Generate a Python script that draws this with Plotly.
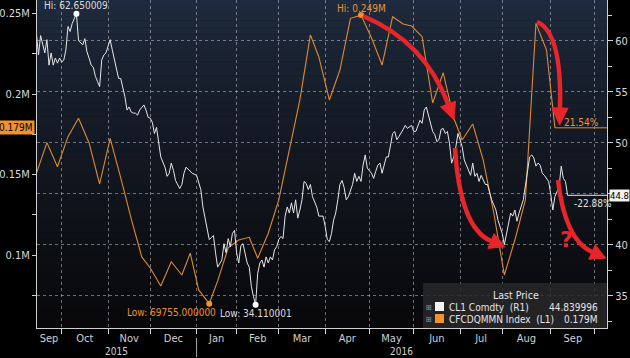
import math
import pandas as pd
import plotly.graph_objects as go

# ---------------- data ----------------
HOLIDAYS = ["2015-11-26", "2015-12-25", "2016-01-01", "2016-01-18", "2016-02-15",
            "2016-03-25", "2016-05-30", "2016-07-04", "2016-09-05"]

# CL1 Comdty (R1): trading-day offsets from 2015-10-01 and prices
cl1_day = [-12, -11, -10, -8, -7, -6, -5, -4, -3, -2, -1, 0, 1, 2, 3, 4, 5, 7, 8, 9,
           10, 11, 12, 13, 14, 15, 16, 17, 18, 19, 20, 21, 23, 24, 25, 26, 27, 28, 29, 30,
           31, 32, 33, 34, 35, 36, 37, 39, 40, 41, 42, 43, 44, 45, 47, 48, 49, 50, 51, 52,
           53, 54, 55, 56, 57, 58, 59, 60, 61, 62, 64, 66, 67, 68, 69, 70, 71, 72, 73, 74,
           76, 77, 78, 79, 80, 81, 82, 83, 84, 85, 86, 87, 88, 89, 90, 91, 92, 93, 94, 95,
           96, 97, 98, 99, 100, 101, 102, 103, 104, 105, 106, 107, 108, 109, 110, 111, 112, 113, 114, 115,
           116, 117, 118, 119, 120, 121, 122, 124, 125, 126, 127, 128, 129, 130, 131, 132, 133, 134, 135, 136,
           138, 139, 140, 141, 142, 143, 144, 145, 147, 148, 149, 150, 151, 152, 153, 154, 155, 156, 157, 158,
           159, 160, 161, 162, 163, 164, 166, 167, 168, 169, 170, 171, 172, 173, 174, 175, 176, 177, 178, 179,
           180, 181, 182, 183, 184, 185, 186, 187, 188, 189, 190, 191, 193, 194, 195, 196, 197, 198, 199, 200,
           201, 202, 203, 204, 205, 206, 207, 208, 209, 210, 211, 212, 213, 214, 215, 216, 217, 219, 220, 221,
           222, 223, 224, 225, 226, 227, 228, 229, 231, 232, 233, 234, 235, 236, 237, 238, 239, 240]
cl1_px = [60.7, 58.6, 60.5, 58.8, 60.1, 57.6, 58.8, 57.6, 58.3, 57.8, 58.3, 57.9, 58.1, 59.1, 61.4, 60.9, 61.7, 62.65, 60.0, 59.8,
          59.6, 60.2, 58.9, 58.3, 57.6, 57.4, 56.5, 56.0, 55.5, 58.1, 58.6, 58.8, 60.1, 59.1, 58.1, 57.1, 56.3, 56.3, 55.5, 54.5,
          53.2, 53.5, 53.0, 52.9, 52.9, 52.7, 53.2, 53.7, 53.2, 52.5, 52.4, 52.0, 50.9, 51.5, 48.6, 48.0, 47.6, 46.7, 47.0, 48.0,
          47.3, 46.3, 45.9, 45.5, 45.9, 47.0, 47.6, 47.4, 47.3, 47.0, 46.8, 45.4, 43.7, 42.6, 41.4, 40.5, 40.7, 40.9, 39.2, 37.8,
          38.5, 40.1, 39.2, 40.6, 39.8, 41.1, 41.4, 39.2, 38.2, 39.9, 40.1, 39.2, 38.2, 37.8, 35.9, 34.9, 34.11, 37.2, 38.2, 38.5,
          37.8, 38.8, 38.2, 38.8, 38.5, 39.5, 39.8, 40.5, 40.8, 40.6, 42.8, 43.7, 43.1, 44.1, 43.1, 44.4, 42.6, 43.4, 44.4, 46.2,
          46.0, 45.4, 45.9, 44.7, 44.1, 43.7, 42.8, 42.8, 41.8, 40.5, 40.3, 41.1, 42.4, 43.1, 44.4, 45.9, 46.3, 45.6, 44.4, 44.7,
          45.9, 47.0, 46.2, 46.7, 46.2, 47.8, 48.8, 47.5, 47.0, 46.5, 47.2, 47.8, 48.0, 47.0, 47.8, 48.6, 48.6, 49.9, 50.9, 51.1,
          50.3, 50.6, 50.9, 51.3, 51.7, 51.4, 51.7, 51.1, 51.1, 51.7, 52.2, 51.9, 53.2, 53.5, 52.7, 51.9, 51.1, 50.8, 50.1, 50.3,
          51.3, 51.4, 50.9, 51.1, 49.9, 48.0, 48.6, 49.6, 50.9, 50.3, 49.6, 48.3, 47.3, 46.8, 48.0, 46.7, 47.0, 46.2, 46.8, 46.3,
          45.9, 45.9, 45.1, 44.4, 43.9, 43.4, 42.4, 41.8, 41.1, 40.0, 41.1, 42.3, 43.1, 42.8, 43.4, 42.3, 43.1, 44.4, 45.9, 47.3,
          48.6, 48.8, 48.5, 47.7, 48.0, 47.8, 47.0, 46.8, 46.2, 45.0, 43.4, 44.7, 45.2, 45.7, 47.7, 46.5, 46.2, 44.84]

# CFCDQMMN Index (L1): weekly values (Tuesdays), 2015-09-15 .. 2016-09-06
cfcd_start = "2015-09-15"
cfcd_val = [150700, 169800, 154800, 173500, 184900, 169600, 144100, 172500, 148100, 122400,
            98800, 91900, 80700, 95800, 87600, 101100, 78300, 69755, 83900, 104400,
            109300, 111000, 98000, 113500, 134200, 165200, 196300, 236700, 223000, 196300,
            214900, 247000, 249000, 234800, 218000, 248000, 243500, 242200, 235600, 194400,
            213200, 185100, 171400, 181400, 159000, 126100, 87600, 109300, 134200, 243900,
            227300, 179000]

MONTH_LABELS = ["Sep", "Oct", "Nov", "Dec", "Jan", "Feb", "Mar", "Apr", "May", "Jun", "Jul", "Aug", "Sep"]
MONTH_LABEL_AT = ["2015-09-23", "2015-10-16", "2015-11-16", "2015-12-16", "2016-01-15 12:00",
                  "2016-02-16", "2016-03-16", "2016-04-15 12:00", "2016-05-16 12:00", "2016-06-16",
                  "2016-07-18", "2016-08-16 12:00", "2016-09-16 12:00"]
MONTH_STARTS = ["2015-10-01", "2015-11-02", "2015-12-01", "2016-01-04", "2016-02-01", "2016-03-01",
                "2016-04-01", "2016-05-02", "2016-06-01", "2016-07-01", "2016-08-01", "2016-09-01",
                "2016-10-03"]
YEAR_LABELS = ["2015", "2016"]
YEAR_LABEL_AT = ["2015-11-06", "2016-05-23"]
YEAR_BREAK = "2016-01-04"

LEFT_TICKS = [100000, 150000, 200000, 250000]
LEFT_TICKTEXT = ["0.1M", "0.15M", "0.2M", "0.25M"]
LEFT_MINOR = [75000, 125000, 175000, 225000]
RIGHT_TICKS = [35, 40, 45, 50, 55, 60]
RIGHT_TICKTEXT = ["35", "40", "", "50", "55", "60"]   # 45 is covered by the last-price tag
RIGHT_MINOR = [32.5, 37.5, 42.5, 47.5, 52.5, 57.5, 62.5]

assert len(cl1_day) == len(cl1_px)

# trading-day calendar
tdays = pd.bdate_range("2015-09-01", "2016-10-31", freq="C", holidays=HOLIDAYS)
base = list(tdays).index(pd.Timestamp("2015-10-01"))
cl1_dates = [tdays[base + n] for n in cl1_day]
cfcd_dates = list(pd.date_range(cfcd_start, periods=len(cfcd_val), freq="7D"))

# ---------------- styling helpers ----------------
W, H = 630, 358
L, R, T, B = 37, 23, 0, 30
PW, PH = W - L - R, H - T - B
FONT = "Liberation Sans Narrow, DejaVu Sans Condensed, Arial Narrow, Liberation Sans, sans-serif"
ORANGE = "#e08a2e"
ORANGE_BOX = "#f0922e"
WHITE = "#e6e6e6"
RED = "#e8252b"
GRID = "rgba(195,195,205,0.55)"


def px(x):
    return (x - L) / PW


def py(y):
    return (T + PH - y) / PH


def P(x, y):
    return f"{px(x):.5f},{py(y):.5f}"


fig = go.Figure()

fig.add_trace(go.Scatter(x=cfcd_dates, y=cfcd_val, mode="lines", yaxis="y",
                         line=dict(color=ORANGE, width=1.1), hoverinfo="skip"))
fig.add_trace(go.Scatter(x=cl1_dates, y=cl1_px, mode="lines", yaxis="y2",
                         line=dict(color=WHITE, width=1.0), hoverinfo="skip"))

# hi / low markers
i_hi_o = cfcd_val.index(max(cfcd_val)); i_lo_o = cfcd_val.index(min(cfcd_val))
i_hi_w = cl1_px.index(max(cl1_px)); i_lo_w = cl1_px.index(min(cl1_px))
fig.add_trace(go.Scatter(x=[cfcd_dates[i_hi_o], cfcd_dates[i_lo_o]],
                         y=[cfcd_val[i_hi_o], cfcd_val[i_lo_o]], mode="markers", yaxis="y",
                         marker=dict(color=ORANGE_BOX, size=6), hoverinfo="skip"))
fig.add_trace(go.Scatter(x=[cl1_dates[i_hi_w], cl1_dates[i_lo_w]],
                         y=[cl1_px[i_hi_w], cl1_px[i_lo_w]], mode="markers", yaxis="y2",
                         marker=dict(color="#ffffff", size=6), hoverinfo="skip"))

x_range = ["2015-09-15 07:00", "2016-10-10 17:00"]

shapes = []
# background gradient (plot area)
N = 48
top, bot = (31, 43, 62), (8, 8, 10)
for i in range(N):
    t = (i + 0.5) / N
    f = t ** 0.8
    c = tuple(int(round(top[k] + (bot[k] - top[k]) * f)) for k in range(3))
    shapes.append(dict(type="rect", xref="paper", yref="paper", x0=0, x1=1,
                       y0=1 - (i + 1) / N - 0.001, y1=1 - i / N, layer="below",
                       fillcolor=f"rgb{c}", line=dict(width=0)))

# last-value lines
shapes.append(dict(type="line", xref="x", yref="y2", x0=cl1_dates[-1], x1=x_range[1],
                   y0=cl1_px[-1], y1=cl1_px[-1], line=dict(color=WHITE, width=1)))
shapes.append(dict(type="line", xref="x", yref="y", x0=cfcd_dates[-1], x1=x_range[1],
                   y0=cfcd_val[-1], y1=cfcd_val[-1], line=dict(color=ORANGE, width=1)))
# year separator under axis
shapes.append(dict(type="line", xref="x", yref="paper", x0=YEAR_BREAK, x1=YEAR_BREAK,
                   y0=py(357), y1=py(338), line=dict(color="#aaaaaa", width=1)))

# legend box
shapes.append(dict(type="rect", xref="paper", yref="paper", x0=px(423), x1=px(607),
                   y0=py(328), y1=py(283), fillcolor="rgba(40,40,42,0.85)", line=dict(width=0)))
shapes.append(dict(type="rect", xref="paper", yref="paper", x0=px(435), x1=px(444),
                   y0=py(311), y1=py(302), fillcolor="#f4f4f4", line=dict(width=0)))
shapes.append(dict(type="rect", xref="paper", yref="paper", x0=px(435), x1=px(444),
                   y0=py(323), y1=py(314), fillcolor=ORANGE_BOX, line=dict(width=0)))


# hand-drawn red arrows
def arrow(start, ctrl, end, hl=17, hw=8, width=4.5):
    out = [dict(type="path", xref="paper", yref="paper",
                path=f"M {P(*start)} Q {P(*ctrl)} {P(*end)}",
                line=dict(color=RED, width=width))]
    dx, dy = end[0] - ctrl[0], end[1] - ctrl[1]
    d = math.hypot(dx, dy)
    ux, uy = dx / d, dy / d
    tip = (end[0] + ux * hl, end[1] + uy * hl)
    b1 = (end[0] - uy * hw, end[1] + ux * hw)
    b2 = (end[0] + uy * hw, end[1] - ux * hw)
    out.append(dict(type="path", xref="paper", yref="paper",
                    path=f"M {P(*tip)} L {P(*b1)} L {P(*b2)} Z",
                    fillcolor=RED, line=dict(color=RED, width=1)))
    return out


shapes += arrow((363, 16), (425, 42), (448, 104))
shapes += arrow((455, 148), (460, 228), (491, 241), hl=15)
shapes += arrow((537, 22), (562, 32), (560, 108))
shapes += arrow((558, 180), (565, 240), (592, 252), hl=15)

ann = []
# hi/low labels
ann.append(dict(x=cl1_dates[i_hi_w], y=cl1_px[i_hi_w], yref="y2", text="Hi: 62.650009",
                showarrow=False, xanchor="center", yanchor="middle", yshift=8,
                font=dict(size=10, color="#dcdcdc")))
ann.append(dict(x=cl1_dates[i_lo_w], y=cl1_px[i_lo_w], yref="y2", text="Low: 34.110001",
                showarrow=False, xanchor="center", yanchor="middle", yshift=-9,
                font=dict(size=10, color="#dcdcdc")))
ann.append(dict(x=cfcd_dates[i_hi_o], y=cfcd_val[i_hi_o], yref="y", text="Hi: 0.249M",
                showarrow=False, xanchor="center", yanchor="middle", yshift=7,
                font=dict(size=10, color=ORANGE_BOX)))
ann.append(dict(x=cfcd_dates[i_lo_o], y=cfcd_val[i_lo_o], yref="y", text="Low: 69755.000000",
                showarrow=False, yanchor="middle", yshift=-9, xanchor="right", xshift=9,
                font=dict(size=10, color=ORANGE_BOX)))
# percentage labels
ann.append(dict(x=cfcd_dates[-1], y=cfcd_val[-1], yref="y", text="21.54%", showarrow=False,
                xanchor="left", yanchor="bottom", xshift=7, yshift=-2,
                font=dict(size=10, color=ORANGE_BOX)))
ann.append(dict(x=cl1_dates[-1], y=cl1_px[-1], yref="y2", text="-22.88%", showarrow=False,
                xanchor="left", yanchor="top", xshift=4, yshift=-1,
                font=dict(size=10, color="#e0e0e0")))
# axis last-value tags
ann.append(dict(xref="paper", x=1, y=cl1_px[-1], yref="y2", text="44.8", showarrow=False,
                xanchor="left", yanchor="middle", xshift=2, bgcolor="#f2f2f2", borderpad=0,
                font=dict(size=9.5, color="#000000")))
ann.append(dict(xref="paper", x=0, y=cfcd_val[-1], yref="y", text="0.179M", showarrow=False,
                xanchor="right", yanchor="middle", xshift=-2, bgcolor=ORANGE_BOX, borderpad=1,
                font=dict(size=10, color="#000000")))
# years
for lab, at in zip(YEAR_LABELS, YEAR_LABEL_AT):
    ann.append(dict(x=at, xref="x", yref="paper", y=py(351), text=lab, showarrow=False,
                    xanchor="center", yanchor="middle", font=dict(size=10, color="#d0d0d0")))
# legend texts
ann.append(dict(xref="paper", yref="paper", x=px(516), y=py(295), text="Last Price",
                xanchor="center", yanchor="middle", showarrow=False,
                font=dict(size=10.5, color="#e6e6e6")))
for row_y, name, val in [(307, "CL1 Comdty  (R1)", "44.839996"),
                         (319, "CFCDQMMN Index  (L1)", "0.179M")]:
    ann.append(dict(xref="paper", yref="paper", x=px(429), y=py(row_y), text="⊞",
                    xanchor="center", yanchor="middle", showarrow=False,
                    font=dict(size=8, color="#9a9a9a")))
    ann.append(dict(xref="paper", yref="paper", x=px(447), y=py(row_y), text=name,
                    xanchor="left", yanchor="middle", showarrow=False,
                    font=dict(size=10, color="#e6e6e6")))
    ann.append(dict(xref="paper", yref="paper", x=px(600), y=py(row_y), text=val,
                    xanchor="right", yanchor="middle", showarrow=False,
                    font=dict(size=10, color="#e6e6e6")))
# red question mark
ann.append(dict(xref="paper", yref="paper", x=px(566), y=py(239), text="<b>?</b>",
                xanchor="center", yanchor="middle", showarrow=False,
                font=dict(size=22, color=RED, family="DejaVu Sans")))

fig.update_layout(
    width=W, height=H, margin=dict(l=L, r=R, t=T, b=B),
    paper_bgcolor="#000000", plot_bgcolor="#0a0a0c", showlegend=False,
    font=dict(family=FONT, size=11, color="#d4d4d4"),
    shapes=shapes, annotations=ann,
    xaxis=dict(type="date", range=x_range,
               rangebreaks=[dict(bounds=["sat", "mon"]), dict(values=HOLIDAYS)],
               tickmode="array", tickvals=MONTH_LABEL_AT, ticktext=MONTH_LABELS,
               ticks="", showgrid=False, zeroline=False,
               showline=True, linecolor="#cfcfcf", linewidth=1,
               tickfont=dict(size=11, color="#d0d0d0"),
               minor=dict(tickmode="array", tickvals=MONTH_STARTS, ticks="outside",
                          ticklen=5, tickcolor="#cfcfcf", showgrid=True,
                          gridcolor=GRID, griddash="dot", gridwidth=1)),
    yaxis=dict(range=[54660, 258390], tickmode="array", tickvals=LEFT_TICKS,
               ticktext=LEFT_TICKTEXT, ticks="outside", ticklen=4, tickcolor="#cfcfcf",
               showgrid=False, zeroline=False, showline=True, linecolor="#cfcfcf",
               tickfont=dict(size=11, color="#d8d8d8"),
               minor=dict(tickmode="array", tickvals=LEFT_MINOR, ticks="outside",
                          ticklen=4, tickcolor="#cfcfcf")),
    yaxis2=dict(range=[31.83, 63.99], overlaying="y", side="right", tickmode="array",
                tickvals=RIGHT_TICKS, ticktext=RIGHT_TICKTEXT, ticks="outside", ticklen=5,
                tickcolor="#cfcfcf",
                showgrid=True, gridcolor=GRID, griddash="dot", gridwidth=1,
                zeroline=False, showline=True, linecolor="#cfcfcf",
                tickfont=dict(size=11, color="#d8d8d8"),
                minor=dict(tickmode="array", tickvals=RIGHT_MINOR, ticks="outside",
                           ticklen=4, tickcolor="#cfcfcf")),
)

fig.write_html("out.html")
